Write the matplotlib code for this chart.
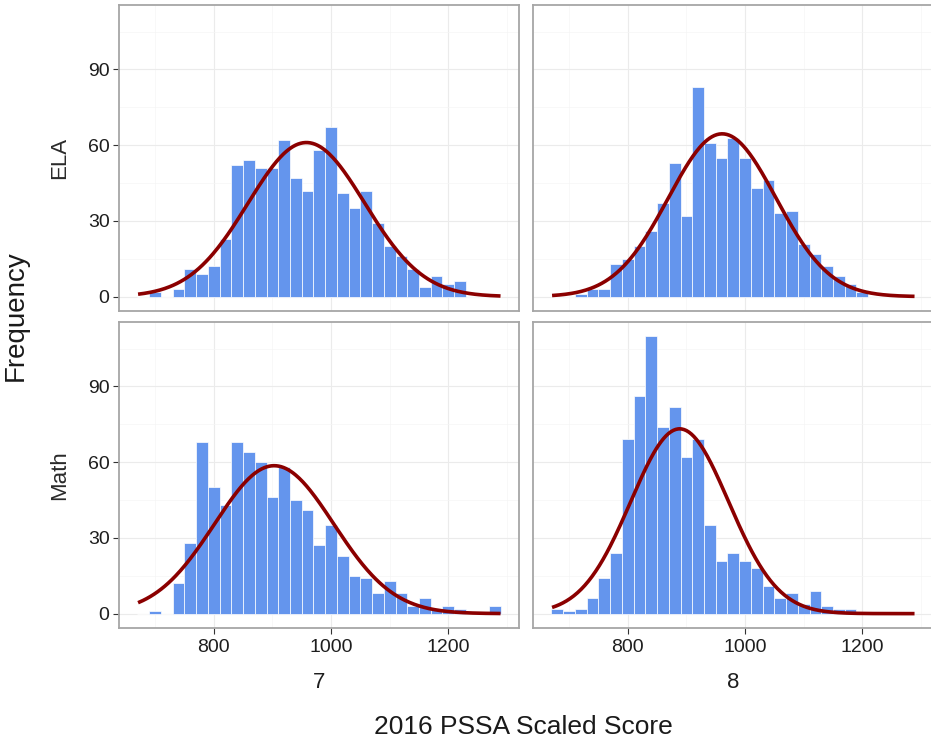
import numpy as np
import matplotlib.pyplot as plt

plt.rcParams['font.family'] = ['Liberation Sans', 'DejaVu Sans']

# histogram bins (score, width 20)
bin_width = 20
bin_starts = np.arange(670, 1290, bin_width)

subjects = ['ELA', 'Math']
grades = ['7', '8']

# counts per bin
ela7 = [0, 2, 0, 3, 11, 9, 12, 23, 52, 54, 51, 51, 62, 47, 42, 58, 67, 41, 35, 42,
        29, 20, 16, 11, 4, 8, 5, 6, 0, 0, 0]
ela8 = [0, 0, 1, 3, 3, 13, 15, 20, 26, 37, 53, 32, 83, 61, 55, 63, 55, 43, 46, 33,
        34, 21, 17, 12, 8, 5, 2, 0, 0, 0, 0]
math7 = [0, 1, 0, 12, 28, 68, 50, 43, 68, 64, 60, 46, 58, 45, 41, 27, 35, 23, 15, 14,
         8, 13, 8, 3, 6, 2, 3, 2, 0, 0, 3]
math8 = [2, 1, 2, 6, 14, 24, 69, 86, 110, 74, 82, 62, 69, 35, 21, 24, 21, 18, 11, 6,
         8, 4, 9, 3, 2, 2, 0, 0, 0, 0, 0]

# normal curve fitted to each panel (mean, sd)
ela7_fit = (958, 99.5)
ela8_fit = (961, 91.7)
math7_fit = (903, 101.6)
math8_fit = (888.5, 83.4)

curve_range = (671, 1289)

panels = {('ELA', '7'): (ela7, ela7_fit), ('ELA', '8'): (ela8, ela8_fit),
          ('Math', '7'): (math7, math7_fit), ('Math', '8'): (math8, math8_fit)}

W, H = 931, 741
fig = plt.figure(figsize=(W / 100, H / 100), dpi=100)

lefts = [119.3, 533.3]
tops = [5, 322]
pw, ph = 400, 305.5

for i, subj in enumerate(subjects):
    for j, gr in enumerate(grades):
        counts, (mu, sd) = panels[(subj, gr)]
        counts = np.array(counts)
        ax = fig.add_axes([lefts[j] / W, 1 - (tops[i] + ph) / H, pw / W, ph / H])
        ax.set_axisbelow(True)
        ax.bar(bin_starts, counts, width=bin_width, align='edge',
               color='#6495ED', edgecolor='white', linewidth=0.5, zorder=2)
        xs = np.linspace(curve_range[0], curve_range[1], 300)
        n = counts.sum()
        ys = n * bin_width * np.exp(-0.5 * ((xs - mu) / sd) ** 2) / (sd * np.sqrt(2 * np.pi))
        ax.plot(xs, ys, color='#8B0000', linewidth=2.6, zorder=3, solid_capstyle='butt')

        ax.set_xlim(639, 1321)
        ax.set_ylim(-5.5, 115.5)
        ax.set_xticks([800, 1000, 1200])
        ax.set_xticks([700, 900, 1100, 1300], minor=True)
        ax.set_yticks([0, 30, 60, 90])
        ax.set_yticks([15, 45, 75, 105], minor=True)
        ax.grid(which='major', color='#EBEBEB', linewidth=0.8)
        ax.grid(which='minor', color='#F5F5F5', linewidth=0.5)
        ax.tick_params(which='minor', length=0)
        ax.tick_params(which='major', labelsize=14, length=4, width=0.8,
                       color='#333333', labelcolor='#1e1e1e')
        ax.tick_params(axis='x', pad=4)
        ax.tick_params(axis='y', pad=3)
        for sp in ax.spines.values():
            sp.set_color('#A6A6A6')
            sp.set_linewidth(1.3)
        if i == 0:
            ax.tick_params(axis='x', length=0, labelbottom=False)
        if j == 1:
            ax.tick_params(axis='y', length=0, labelleft=False)

# facet labels
for i, subj in enumerate(subjects):
    yc = tops[i] + ph / 2
    fig.text(60 / W, 1 - yc / H, subj, rotation=90, ha='center', va='center',
             fontsize=16, color='#2a2a2a')
for j, gr in enumerate(grades):
    xc = lefts[j] + pw / 2
    fig.text(xc / W, 1 - 682 / H, gr, ha='center', va='center',
             fontsize=16, color='#1e1e1e')

fig.text(523 / W, 1 - 727 / H, '2016 PSSA Scaled Score', ha='center', va='center',
         fontsize=19, color='#1a1a1a')
fig.text(16 / W, 1 - 316 / H, 'Frequency', rotation=90, ha='center', va='center',
         fontsize=20, color='#1a1a1a')

fig.savefig('out.png', dpi=100)
